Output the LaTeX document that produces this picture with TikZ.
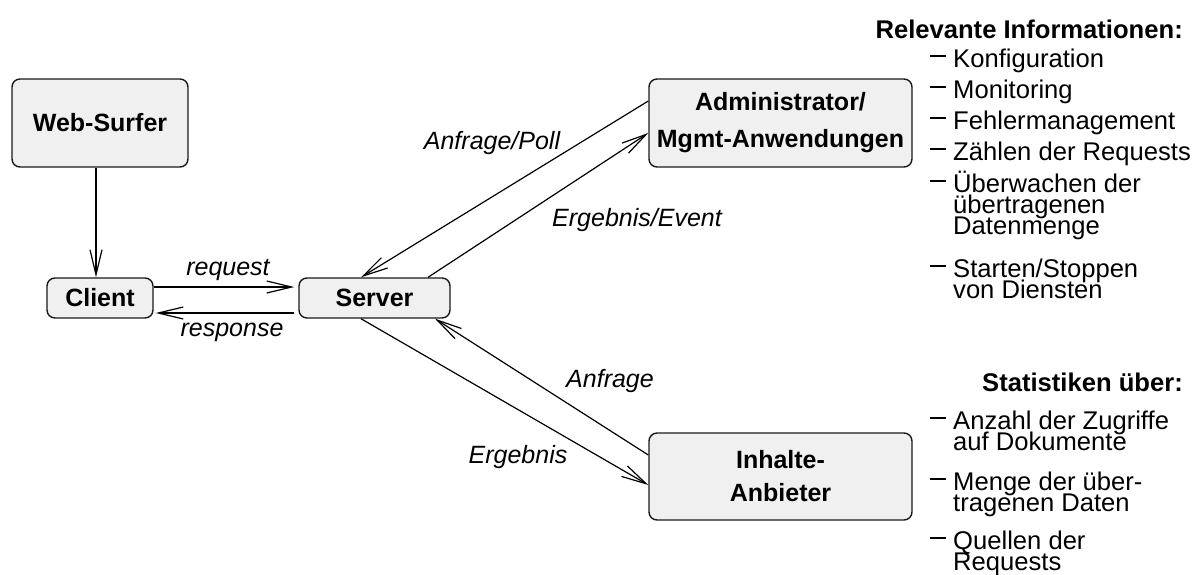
\documentclass[tikz,border=0pt]{standalone}
\usepackage{fontspec}
\setmainfont{Liberation Sans}
\usetikzlibrary{arrows.meta}
\definecolor{boxfill}{HTML}{F0F0F0}
\definecolor{boxline}{HTML}{1A1A1A}
% list entry: a thin dash at mid-letter height, then the lines of the entry
% (separated by \cr) on a fixed, tight baseline grid
\newcommand{\listentry}[1]{\raisebox{10.3pt}{\rule{16pt}{1.3pt}}\hspace{7pt}%
  \vtop{\baselineskip=21pt\lineskiplimit=-30pt\halign{##\hfil\cr#1\crcr}}}
\begin{document}
\begin{tikzpicture}[x=1pt,y=-1pt,
  box/.style={draw=boxline, line width=1.4pt, fill=boxfill, rounded corners=8pt,
    font=\fontsize{25}{37}\selectfont\bfseries, align=center, inner sep=0pt},
  conn/.style={line width=1.2pt, -{Straight Barb[length=25pt,width=12pt]}},
  lbl/.style={font=\fontsize{25}{30}\selectfont\itshape, inner sep=0pt},
  entry/.style={font=\fontsize{25.6}{21}\selectfont, inner sep=0pt, anchor=base west},
  head/.style={font=\fontsize{25.6}{30}\selectfont\bfseries, inner sep=0pt, anchor=base east}]
\useasboundingbox (0,0) rectangle (1197,574);

% main boxes
\node[box, minimum width=176pt, minimum height=88pt] (web) at (100,123) {Web-Surfer};
\node[box, minimum width=106pt, minimum height=40pt] (cli) at (100,298) {Client};
\node[box, minimum width=151pt, minimum height=40pt] (srv) at (374.5,298) {Server};
\node[box, minimum width=263pt, minimum height=88pt] (adm) at (780.5,123) {Administrator/\\Mgmt-Anwendungen};
\node[box, minimum width=263pt, minimum height=87pt,
  font=\fontsize{25}{33}\selectfont\bfseries] (inh) at (780.5,476.5) {Inhalte-\\Anbieter};

% connectors
\draw[conn] ([xshift=-4pt]web.south) -- ([xshift=-4pt]cli.north);
\draw[conn] ([yshift=11pt]cli.east) -- ([xshift=-4pt,yshift=11pt]srv.west);
\draw[conn] ([xshift=-4pt,yshift=-15pt]srv.west) -- ([xshift=2pt,yshift=-15pt]cli.east);
\draw[conn] ([yshift=22pt]adm.west) -- ([xshift=-13.5pt]srv.north);
\draw[conn] ([xshift=53.5pt]srv.north) -- ([yshift=-10pt]adm.west);
\draw[conn] ([xshift=-13.5pt]srv.south) -- ([yshift=-8.5pt]inh.west);
\draw[conn] ([yshift=21.5pt]inh.west) -- ([xshift=60.5pt]srv.south);

% connector labels
\node[lbl] (lreq) at (228,270) {request};
\node[lbl] (lres) at (232,332) {response};
\node[lbl] (lpoll) at (492,143) {Anfrage/Poll};
\node[lbl] (levt) at (637,220) {Ergebnis/Event};
\node[lbl] (lanf) at (610,381) {Anfrage};
\node[lbl] (lerg) at (518,457) {Ergebnis};

% information list
\node[head] (h1) at (1183,38) {Relevante Informationen:};
\node[entry] (a1) at (930,67)  {\listentry{Konfiguration}};
\node[entry] (a2) at (930,98)  {\listentry{Monitoring}};
\node[entry] (a3) at (930,129) {\listentry{Fehlermanagement}};
\node[entry] (a4) at (930,160) {\listentry{Zählen der Requests}};
\node[entry] (a5) at (930,192) {\listentry{Überwachen der\cr übertragenen\cr Datenmenge}};
\node[entry] (a6) at (930,277) {\listentry{Starten/Stoppen\cr von Diensten}};

% statistics list
\node[head] (h2) at (1183,391) {Statistiken über:};
\node[entry] (b1) at (930,429) {\listentry{Anzahl der Zugriffe\cr auf Dokumente}};
\node[entry] (b2) at (930,490) {\listentry{Menge der über-\cr tragenen Daten}};
\node[entry] (b3) at (930,549) {\listentry{Quellen der\cr Requests}};
\end{tikzpicture}
\end{document}
